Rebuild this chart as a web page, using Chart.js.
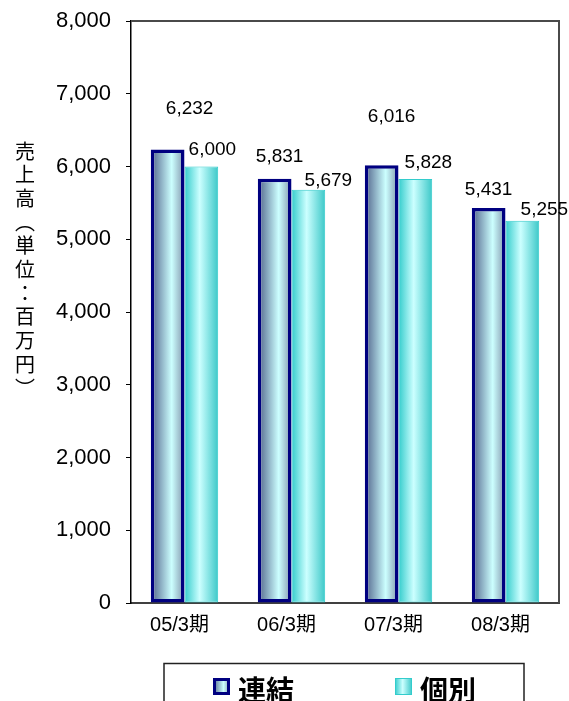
<!DOCTYPE html>
<html>
<head>
<meta charset="utf-8">
<script src="https://cdn.jsdelivr.net/npm/chart.js@4/dist/chart.umd.min.js"></script>
<style>
  html, body { margin: 0; padding: 0; background: #fff; overflow: hidden; }
  #wrap { width: 569px; height: 701px; }
</style>
</head>
<body>
<div id="wrap"><canvas id="myChart" width="569" height="701"></canvas></div>
<script>
const periods = ["05/3期", "06/3期", "07/3期", "08/3期"]
const consolidated = [6232, 5831, 6016, 5431]
const standalone = [6000, 5679, 5828, 5255]
const seriesNames = ["連結", "個別"]
const yTitle = "売上高（単位：百万円）"

const ctx = document.getElementById('myChart')
const catPct = 0.63
const numFont = "'Liberation Sans', Arial, sans-serif"
const jpFont = "'Noto Sans CJK JP', 'Liberation Sans', sans-serif"

// horizontal shading across each bar, like a lit cylinder
const navyStops = [[0, '#4f6189'], [0.62, '#ccffff'], [1, '#8194ab']]
const cyanStops = [[0, '#33cccc'], [0.45, '#ccffff'], [1, '#3cc8c8']]

const makeGrad = (c, left, w, stops) => {
    const g = c.createLinearGradient(left, 0, left + w, 0)
    stops.forEach(s => g.addColorStop(s[0], s[1]))
    return g
}

const barFill = (stops, side) => context => {
    const chart = context.chart
    if (!chart.chartArea) return stops[1][1]
    const xs = chart.scales.x
    const center = xs.getPixelForValue(context.dataIndex)
    const bw = xs.width / periods.length * catPct / 2
    const left = side === 0 ? center - bw : center
    return makeGrad(chart.ctx, left, bw, stops)
}

// value labels sit a bit off the bars, nudged per bar
const labelShift = [
    { dx: [22, 5, 10, 0], gap: [36, 17, 43, 13] },
    { dx: [11, 20, 13, 22], gap: [12, 4, 11, 6] }
]

const valueLabels = {
    id: 'valueLabels',
    afterDatasetsDraw(chart) {
        const c = chart.ctx
        c.save()
        c.font = "19px " + numFont
        c.fillStyle = '#000'
        c.textAlign = 'center'
        c.textBaseline = 'alphabetic'
        chart.data.datasets.forEach((ds, di) => {
            chart.getDatasetMeta(di).data.forEach((bar, i) => {
                const s = labelShift[di]
                c.fillText(ds.data[i].toLocaleString('en-US'), bar.x + s.dx[i], bar.y - s.gap[i])
            })
        })
        c.restore()
    }
}

const frame = {
    id: 'frame',
    beforeDatasetsDraw(chart) {
        const { left, right, top, bottom } = chart.chartArea
        const c = chart.ctx
        c.save()
        c.strokeStyle = '#4a4a4a'
        c.lineWidth = 2
        c.beginPath()
        c.moveTo(left, top)
        c.lineTo(right, top)
        c.lineTo(right, bottom)
        c.stroke()
        c.restore()
    }
}

// upright CJK title stacked down the left side
const verticalTitle = {
    id: 'verticalTitle',
    afterDraw(chart) {
        const c = chart.ctx
        const vert = { '（': '︵', '）': '︶' }
        c.save()
        c.font = "20px " + jpFont
        c.fillStyle = '#000'
        c.textAlign = 'center'
        c.textBaseline = 'middle'
        Array.from(yTitle).forEach((ch, i) => {
            c.fillText(vert[ch] || ch, 25, 151 + i * 23.7)
        })
        c.restore()
    }
}

const boxLegend = {
    id: 'boxLegend',
    afterDraw(chart) {
        const c = chart.ctx
        c.save()
        c.strokeStyle = '#222'
        c.lineWidth = 1.5
        c.strokeRect(164, 663.5, 360, 60)
        const items = [
            { x: 213, stops: navyStops, border: '#000080', bw: 3 },
            { x: 395, stops: cyanStops, border: '#33cccc', bw: 1 }
        ]
        items.forEach((it, i) => {
            c.fillStyle = makeGrad(c, it.x, 17, it.stops)
            c.fillRect(it.x, 678, 17, 17)
            c.strokeStyle = it.border
            c.lineWidth = it.bw
            c.strokeRect(it.x + it.bw / 2, 678 + it.bw / 2, 17 - it.bw, 17 - it.bw)
            c.fillStyle = '#000'
            c.font = "bold 28px " + jpFont
            c.textAlign = 'left'
            c.textBaseline = 'middle'
            c.fillText(seriesNames[i], it.x + 25, 690)
        })
        c.restore()
    }
}

new Chart(ctx, {
    type: 'bar',
    data: {
        labels: periods,
        datasets: [{
            label: seriesNames[0],
            data: consolidated,
            backgroundColor: barFill(navyStops, 0),
            borderColor: '#000080',
            borderWidth: 3.5,
            borderSkipped: false
        }, {
            label: seriesNames[1],
            data: standalone,
            backgroundColor: barFill(cyanStops, 1),
            borderColor: '#33cccc',
            borderWidth: 1,
            borderSkipped: false
        }]
    },
    options: {
        responsive: false,
        animation: false,
        layout: { padding: { left: 0, right: 10, top: 21, bottom: 58 } },
        datasets: { bar: { categoryPercentage: catPct, barPercentage: 1 } },
        plugins: {
            legend: { display: false },
            tooltip: { enabled: false }
        },
        scales: {
            x: {
                grid: { display: false, drawTicks: false },
                border: { display: true, color: '#404040', width: 2 },
                ticks: {
                    color: '#000',
                    padding: 10,
                    labelOffset: -5,
                    font: { size: 20, family: "'Liberation Sans', 'Noto Sans CJK JP', sans-serif" }
                },
                afterFit: scale => { scale.height = 40 }
            },
            y: {
                min: 0,
                max: 8000,
                grid: { drawOnChartArea: false, drawTicks: true, tickLength: 5, color: '#000' },
                border: { display: true, color: '#000', width: 1.5 },
                ticks: {
                    stepSize: 1000,
                    color: '#000',
                    padding: 15,
                    font: { size: 22, family: numFont },
                    callback: v => v.toLocaleString('en-US')
                },
                afterFit: scale => {
                    scale.width = 131
                    scale.paddingTop = 0
                    scale.paddingBottom = 0
                }
            }
        }
    },
    plugins: [frame, valueLabels, verticalTitle, boxLegend]
})
</script>
</body>
</html>
